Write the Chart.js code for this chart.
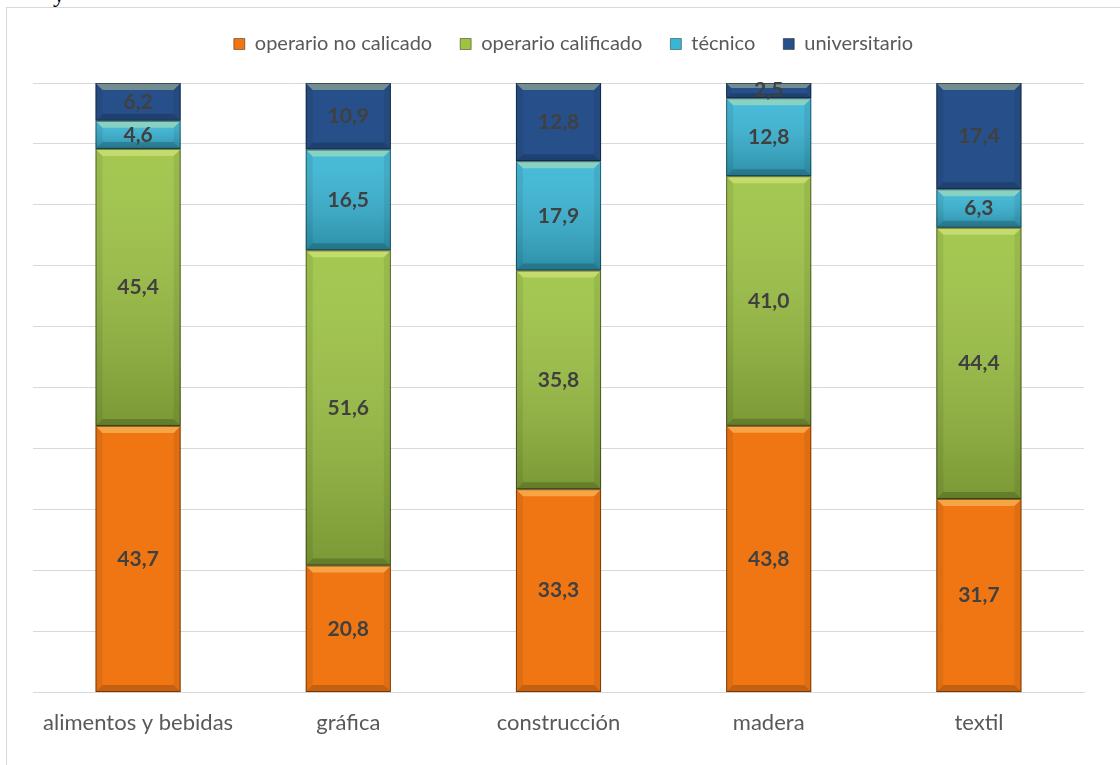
<!DOCTYPE html>
<html lang="es">
<head>
    <meta charset="UTF-8">
    <title>Nivel de calificación por rama</title>
    <script src="https://cdn.jsdelivr.net/npm/chart.js@4"></script>
    <style>
        html, body { margin: 0; padding: 0; background: #fff; overflow: hidden; }
        #wrap { position: relative; width: 1120px; height: 765px; }
        #marco { position: absolute; left: 6px; top: 7px; width: 1130px; height: 780px; border: 1px solid #d9d9d9; box-sizing: border-box; }
        #cola { position: absolute; left: 53px; top: -19px; font: 24px "Liberation Serif", serif; color: #000; }
        #grafico { position: absolute; left: 0; top: 0; }
    </style>
</head>
<body>
    <div id="wrap">
        <div id="marco"></div>
        <div id="cola">y</div>
        <canvas id="grafico" width="1120" height="765"></canvas>
    </div>

    <script>
        // datos (%)
        const ramas = ['alimentos y bebidas', 'gráfica', 'construcción', 'madera', 'textil'];
        const operarioNoCalificado = [43.7, 20.8, 33.3, 43.8, 31.7];
        const operarioCalificado = [45.4, 51.6, 35.8, 41.0, 44.4];
        const tecnico = [4.6, 16.5, 17.9, 12.8, 6.3];
        const universitario = [6.2, 10.9, 12.8, 2.5, 17.4];

        const series = [
            { label: 'operario no calicado', valores: operarioNoCalificado, color: '#F07613', degradado: false },
            { label: 'operario calificado', valores: operarioCalificado, color: '#9DC343', degradado: true },
            { label: 'técnico', valores: tecnico, color: '#38B6D6', degradado: true },
            { label: 'universitario', valores: universitario, color: '#27508A', degradado: false }
        ];

        // 100% apilado: cada columna se escala a su total
        const totales = ramas.map((_, i) => series.reduce((s, d) => s + d.valores[i], 0));

        const fmt = v => v.toFixed(1).replace('.', ',');
        const fuente = 'Lato, "Open Sans", sans-serif';

        // relieve tipo Excel sobre cada segmento
        const relieve = {
            id: 'relieve',
            beforeInit(chart) {
                // espacio extra debajo de la leyenda
                const fit = chart.legend.fit;
                chart.legend.fit = function () {
                    fit.call(this);
                    this.height += 20;
                };
            },
            afterLayout(chart) {
                // la leyenda del original está algo corrida a la derecha
                const lg = chart.legend;
                lg.left += 15; lg.right += 15;
                lg.top += 1; lg.bottom += 1;
            },
            afterDatasetsDraw(chart) {
                const ctx = chart.ctx;
                chart.data.datasets.forEach((ds, di) => {
                    const meta = chart.getDatasetMeta(di);
                    meta.data.forEach(bar => {
                        const l = bar.x - bar.width / 2, r = bar.x + bar.width / 2;
                        const t = Math.min(bar.y, bar.base), b = Math.max(bar.y, bar.base);
                        const h = b - t;
                        const e = Math.min(7, h / 3);
                        ctx.save();
                        if (series[di].degradado) {
                            const g = ctx.createLinearGradient(0, t, 0, b);
                            g.addColorStop(0, 'rgba(255,255,255,0.08)');
                            g.addColorStop(1, 'rgba(0,0,0,0.22)');
                            ctx.fillStyle = g;
                            ctx.fillRect(l, t, r - l, h);
                        }
                        // arriba claro
                        ctx.fillStyle = 'rgba(255,255,160,0.35)';
                        ctx.beginPath();
                        ctx.moveTo(l, t); ctx.lineTo(r, t); ctx.lineTo(r - e, t + e); ctx.lineTo(l + e, t + e);
                        ctx.closePath(); ctx.fill();
                        // abajo oscuro
                        ctx.fillStyle = 'rgba(0,0,0,0.18)';
                        ctx.beginPath();
                        ctx.moveTo(l, b); ctx.lineTo(r, b); ctx.lineTo(r - e, b - e); ctx.lineTo(l + e, b - e);
                        ctx.closePath(); ctx.fill();
                        // costados
                        ctx.fillStyle = 'rgba(0,0,0,0.07)';
                        ctx.beginPath();
                        ctx.moveTo(l, t); ctx.lineTo(l + e, t + e); ctx.lineTo(l + e, b - e); ctx.lineTo(l, b);
                        ctx.closePath(); ctx.fill();
                        ctx.beginPath();
                        ctx.moveTo(r, t); ctx.lineTo(r - e, t + e); ctx.lineTo(r - e, b - e); ctx.lineTo(r, b);
                        ctx.closePath(); ctx.fill();
                        // borde
                        ctx.strokeStyle = 'rgba(0,0,0,0.45)';
                        ctx.lineWidth = 1;
                        ctx.strokeRect(l + 0.5, t + 0.5, r - l - 1, h - 1);
                        ctx.restore();
                    });
                });
            },
            afterDraw(chart) {
                // etiquetas de valor
                const ctx = chart.ctx;
                ctx.save();
                ctx.font = 'bold 21px ' + fuente;
                ctx.fillStyle = '#404040';
                ctx.textAlign = 'center';
                ctx.textBaseline = 'middle';
                chart.data.datasets.forEach((ds, di) => {
                    chart.getDatasetMeta(di).data.forEach((bar, i) => {
                        const mid = (bar.y + bar.base) / 2;
                        ctx.fillText(fmt(series[di].valores[i]), bar.x, mid);
                    });
                });
                ctx.restore();
            }
        };

        new Chart(document.getElementById('grafico'), {
            type: 'bar',
            data: {
                labels: ramas,
                datasets: series.map(s => ({
                    label: s.label,
                    data: s.valores.map((v, i) => v * 100 / totales[i]),
                    backgroundColor: s.color,
                    borderWidth: 0,
                    barPercentage: 0.405,
                    categoryPercentage: 1
                }))
            },
            options: {
                responsive: false,
                animation: false,
                devicePixelRatio: 1,
                layout: { padding: { left: 33, right: 36, top: 5, bottom: 12 } },
                plugins: {
                    legend: {
                        position: 'top',
                        labels: {
                            boxWidth: 11,
                            boxHeight: 11,
                            padding: 28,
                            color: '#595959',
                            font: { family: fuente, size: 20 },
                            generateLabels(chart) {
                                return chart.data.datasets.map((ds, i) => ({
                                    text: ds.label,
                                    fillStyle: ds.backgroundColor,
                                    strokeStyle: 'rgba(0,0,0,0.4)',
                                    lineWidth: 1,
                                    fontColor: '#595959',
                                    datasetIndex: i
                                }));
                            }
                        }
                    },
                    tooltip: { enabled: false }
                },
                scales: {
                    x: {
                        stacked: true,
                        grid: { display: false, drawTicks: false },
                        border: { color: '#d9d9d9', width: 1 },
                        ticks: {
                            padding: 17,
                            color: '#595959',
                            font: { family: fuente, size: 22 }
                        }
                    },
                    y: {
                        stacked: true,
                        min: 0,
                        max: 100,
                        grid: { color: '#d9d9d9', drawTicks: false },
                        border: { display: false },
                        ticks: { display: false, stepSize: 10 }
                    }
                }
            },
            plugins: [relieve]
        });
    </script>
</body>
</html>
